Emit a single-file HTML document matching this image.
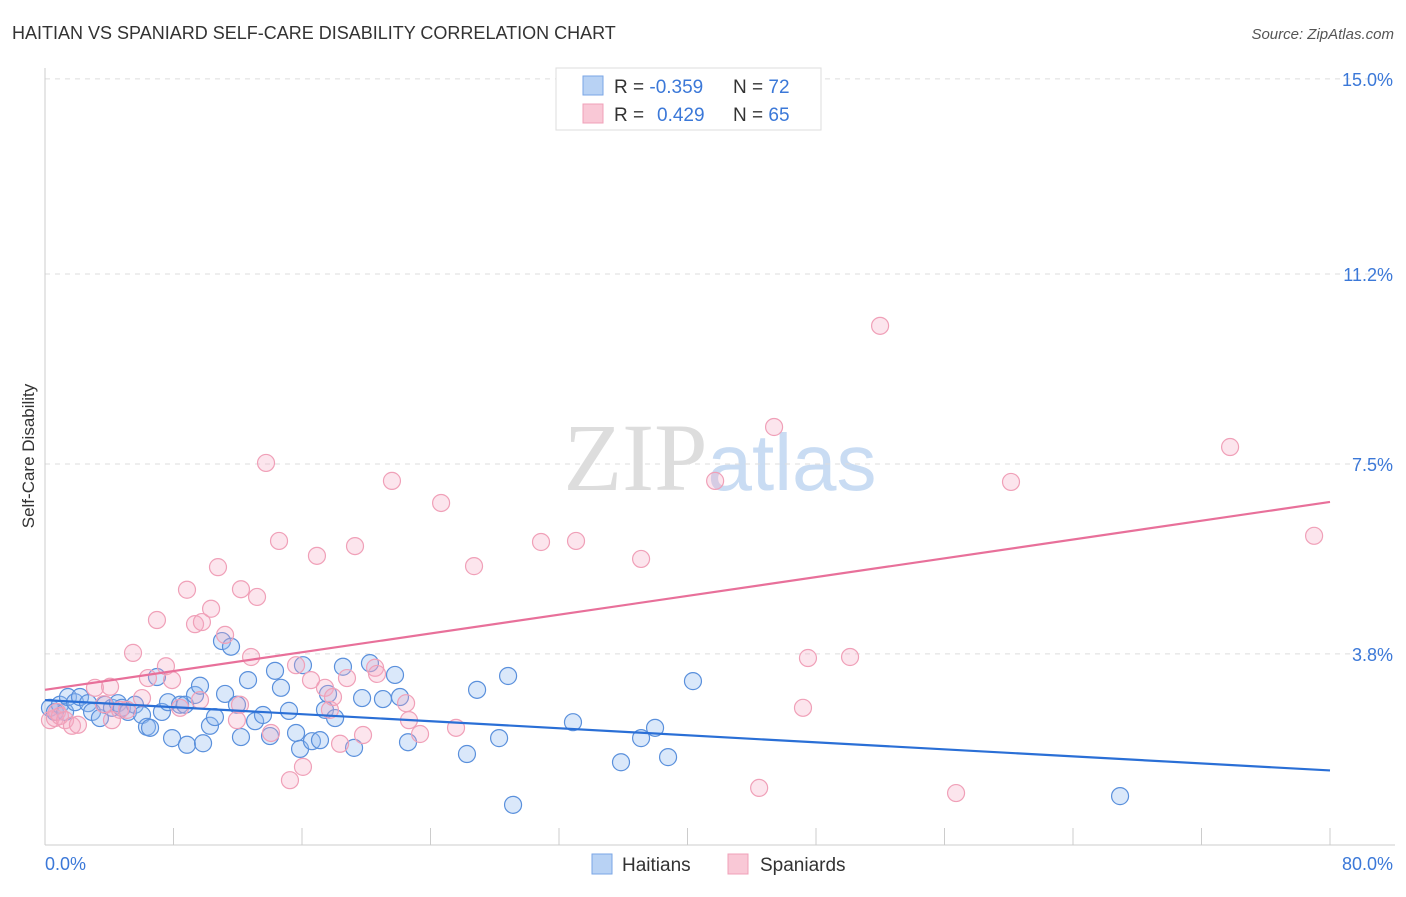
<!DOCTYPE html>
<html><head><meta charset="utf-8"><style>
body{margin:0;background:#fff;font-family:"Liberation Sans",sans-serif}
</style></head><body>
<svg id="chart" width="1406" height="892" xmlns="http://www.w3.org/2000/svg" font-family="Liberation Sans, sans-serif">
<text x="12" y="39" font-size="18" fill="#333">HAITIAN VS SPANIARD SELF-CARE DISABILITY CORRELATION CHART</text>
<text x="1394" y="39" font-size="15" fill="#555" text-anchor="end" font-style="italic">Source: ZipAtlas.com</text>
<text x="720" y="490" font-size="96" text-anchor="middle" fill="#ddd" font-family="Liberation Serif, serif">ZIP<tspan fill="#c9dcf3" font-family="Liberation Sans, sans-serif" font-size="80">atlas</tspan></text>
<text transform="translate(34,456) rotate(-90)" font-size="17" fill="#333" text-anchor="middle">Self-Care Disability</text>
<g id="grid"></g><g id="axes"></g><g id="pts"></g><g id="trend"></g>
<g>
<rect x="556" y="68" width="265" height="62" fill="#fff" stroke="#ddd"/>
<rect x="583" y="76" width="20" height="19" fill="#b8d2f4" stroke="#7aa6e6"/>
<rect x="583" y="104" width="20" height="19" fill="#f9c8d6" stroke="#f0a0b8"/>
<text x="614" y="93" font-size="19" fill="#333">R = <tspan fill="#3b78d8">-0.359</tspan><tspan x="733">N = </tspan><tspan fill="#3b78d8">72</tspan></text>
<text x="614" y="121" font-size="19" fill="#333">R = <tspan fill="#3b78d8" x="657">0.429</tspan><tspan x="733">N = </tspan><tspan fill="#3b78d8">65</tspan></text>
</g>
<g>
<rect x="592" y="854" width="20" height="20" fill="#b8d2f4" stroke="#7aa6e6"/>
<text x="622" y="871" font-size="19" fill="#333">Haitians</text>
<rect x="728" y="854" width="20" height="20" fill="#f9c8d6" stroke="#f0a0b8"/>
<text x="760" y="871" font-size="19" fill="#333">Spaniards</text>
</g>
</svg>
<script>
const yTicks=[15.0,11.2,7.5,3.8];
const yTickLabels=["15.0%","11.2%","7.5%","3.8%"];
const xTicks=[0,8,16,24,32,40,48,56,64,72,80];
const blueX=[.31,.62,.93,1.25,1.43,1.87,2.18,2.68,2.93,3.42,3.74,4.17,4.54,4.79,5.17,5.60,6.04,6.35,6.54,6.97,7.28,7.66,7.91,8.41,8.72,8.84,9.34,9.65,9.84,10.27,10.58,11.02,11.21,11.58,11.95,12.20,12.64,13.08,13.57,14.01,14.32,14.69,15.19,15.63,15.88,16.06,16.62,17.12,17.43,17.62,18.06,18.55,19.24,19.74,20.23,21.04,21.79,22.10,22.60,26.27,26.90,28.27,28.83,29.14,32.87,35.86,37.11,37.98,38.79,40.34,66.93];
const blueY=[2.75,2.67,2.81,2.67,2.96,2.86,2.96,2.84,2.67,2.55,2.81,2.75,2.84,2.75,2.67,2.81,2.61,2.38,2.36,3.35,2.67,2.86,2.16,2.81,2.81,2.03,3.00,3.18,2.06,2.40,2.57,4.05,3.02,3.94,2.81,2.18,3.29,2.49,2.61,2.20,3.47,3.14,2.69,2.26,1.95,3.58,2.10,2.12,2.71,3.02,2.55,3.55,1.97,2.94,3.62,2.92,3.39,2.96,2.08,1.85,3.10,2.16,3.37,0.86,2.47,1.69,2.16,2.36,1.79,3.27,1.03];
const pinkX=[.31,.62,.75,.93,1.25,1.68,2.05,3.11,3.67,4.05,4.17,4.67,5.11,5.48,6.04,6.41,6.97,7.53,7.91,8.41,8.84,9.34,9.65,9.77,10.34,10.77,11.21,11.95,12.14,12.20,12.83,13.20,13.76,14.07,14.57,15.25,15.63,16.06,16.56,16.93,17.43,17.74,17.93,18.37,18.80,19.30,19.80,20.55,20.67,21.60,22.48,22.66,23.35,24.66,25.59,26.71,30.88,33.06,37.11,41.72,44.46,45.39,47.19,47.50,50.12,51.99,56.72,60.14,73.78,79.01];
const pinkY=[2.51,2.55,2.67,2.59,2.51,2.40,2.42,3.14,2.82,3.16,2.51,2.71,2.71,3.82,2.94,3.33,4.46,3.56,3.29,2.75,5.05,4.38,2.90,4.42,4.68,5.49,4.17,2.51,2.81,5.06,3.74,4.91,7.52,2.26,6.00,1.34,3.58,1.60,3.29,5.71,3.14,2.71,2.96,2.05,3.33,5.90,2.22,3.53,3.41,7.17,2.84,2.51,2.24,6.74,2.36,5.51,5.98,6.00,5.65,7.17,1.19,8.22,2.75,3.72,3.74,10.19,1.09,7.15,7.83,6.10];
const blueTrend=[2.90,1.53];
const pinkTrend=[3.10,6.76];
const NS="http://www.w3.org/2000/svg";
const xs=v=>45+v/80*1285;
const ys=v=>849-v*51.34;
function mk(tag,attrs,parent){const e=document.createElementNS(NS,tag);for(const k in attrs)e.setAttribute(k,attrs[k]);document.getElementById(parent).appendChild(e);return e;}
yTicks.forEach((t,i)=>{
 const l=mk('line',{x1:45,x2:1395,y1:ys(t),y2:ys(t),stroke:'#ddd','stroke-dasharray':'5,5'},'grid');
 
 
 const tx=mk('text',{x:1393,y:ys(t)+7,'font-size':18,fill:'#3b78d8','text-anchor':'end'},'grid');
 tx.textContent=yTickLabels[i];
 
 
});
const ya=mk('line',{x1:45,x2:45,y1:68,y2:845,stroke:'#ccc'},'axes');


const xa=mk('line',{x1:45,x2:1395,y1:845,y2:845,stroke:'#ccc'},'axes');


xTicks.forEach(t=>{
 const l=mk('line',{x1:xs(t),x2:xs(t),y1:828,y2:845,stroke:'#ccc'},'axes');
 
 
});
const x0=mk('text',{x:45,y:870,'font-size':18,fill:'#3b78d8'},'axes');x0.textContent='0.0%';


const x1=mk('text',{x:1393,y:870,'font-size':18,fill:'#3b78d8','text-anchor':'end'},'axes');x1.textContent='80.0%';


blueX.forEach((v,i)=>{
 const c=mk('circle',{cx:xs(v),cy:ys(blueY[i]),r:8.5,fill:'rgba(150,190,240,0.35)',stroke:'#5a90dc','stroke-width':1.2},'pts');
 
 
});
pinkX.forEach((v,i)=>{
 const c=mk('circle',{cx:xs(v),cy:ys(pinkY[i]),r:8.5,fill:'rgba(245,170,195,0.3)',stroke:'#f0a0b8','stroke-width':1.2},'pts');
 
 
});
const bl=mk('line',{x1:xs(0),x2:xs(80),y1:ys(blueTrend[0]),y2:ys(blueTrend[1]),stroke:'#2a6fd6','stroke-width':2.2},'trend');


const pl=mk('line',{x1:xs(0),x2:xs(80),y1:ys(pinkTrend[0]),y2:ys(pinkTrend[1]),stroke:'#e8709a','stroke-width':2.2},'trend');


</script>
</body></html>
